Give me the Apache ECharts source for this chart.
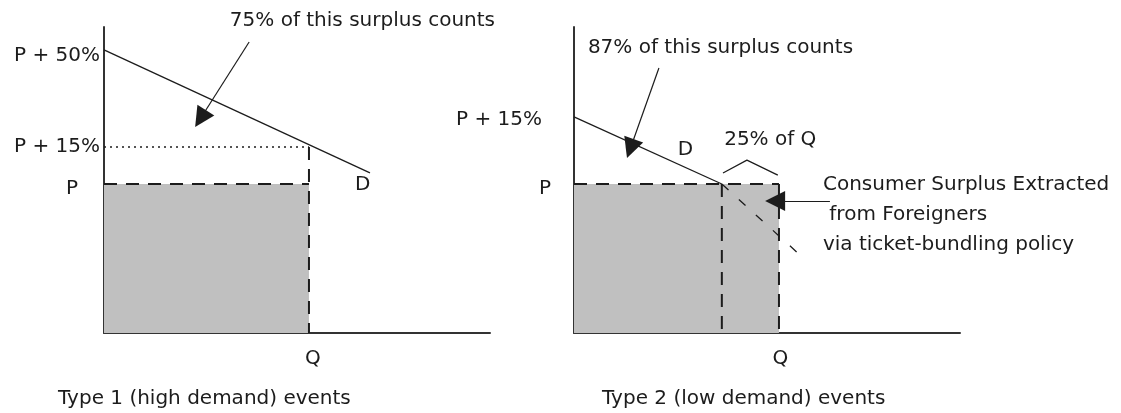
<!DOCTYPE html>
<html>
<head>
	<meta charset="utf-8">
	<title>Consumer surplus - ticket bundling</title>
	<script src="https://cdn.jsdelivr.net/npm/echarts@6/dist/echarts.min.js"></script>
	<style>
		html, body { margin: 0; padding: 0; background: #fff; }
		#main { width: 1121px; height: 413px; }
	</style>
</head>
<body>
<div id="main"></div>
<script type="text/javascript">
	// values (axis units 0..100 on both panels)
	var qLabels = ['Q'];
	var leftPriceLabels = ['P', 'P + 15%', 'P + 50%'];
	var leftPrices = [48.7, 60.8, 92.5];
	var leftQ = 53.1;
	var leftDemand = [[0, 92.5], [68.9, 52.3]];
	var leftArrow = [[37.6, 95.1], [25.0, 70.1]];

	var rightPriceLabels = ['P', 'P + 15%'];
	var rightPrices = [48.7, 70.6];
	var rightQ = 53.1;
	var rightKinkQ = 38.3;
	var rightDemand = [[0, 70.6], [38.3, 48.7]];
	var rightDemandExt = [[38.3, 48.7], [58.8, 25.2]];
	var rightBracket = [[38.6, 52.3], [44.8, 56.5], [52.8, 51.6]];
	var rightArrow = [[22.0, 86.6], [14.6, 60.3]];
	var extractArrow = [[66.3, 43.1], [52.1, 43.1]];

	var notes = [
		{grid: 0, pos: [32.6, 102.0], text: '75% of this surplus counts'},
		{grid: 0, pos: [65.0, 48.4], text: 'D'},
		{grid: 1, pos: [3.6, 93.1], text: '87% of this surplus counts'},
		{grid: 1, pos: [26.9, 59.8], text: 'D'},
		{grid: 1, pos: [38.9, 63.1], text: '25% of Q'},
		{grid: 1, pos: [64.5, 38.6], text: 'Consumer Surplus Extracted\n from Foreigners\nvia ticket-bundling policy'}
	];

	var font = 'DejaVu Sans';
	var ink = '#1c1c1c';
	var fillGrey = '#c0c0c0';

	var myChart = echarts.init(document.getElementById('main'));

	function valueAxis(idx) {
		return {
			type: 'value', gridIndex: idx, min: 0, max: 100,
			axisLine: {show: true, lineStyle: {color: '#333', width: 2}},
			axisTick: {show: false},
			splitLine: {show: false},
			axisLabel: {show: false}
		};
	}

	// pads: one [top, right, bottom, left] padding per label
	function yAxisFor(idx, values, labels, pads) {
		var ax = valueAxis(idx);
		var rich = {};
		labels.forEach(function (t, k) {
			rich['l' + k] = {fontFamily: font, fontSize: 20, color: ink, padding: pads[k]};
		});
		ax.axisLabel = {
			show: true, margin: 0,
			customValues: values,
			formatter: function (v) {
				var k = values.indexOf(v);
				return '{l' + k + '|' + labels[k] + '}';
			},
			rich: rich
		};
		return ax;
	}

	function xAxisFor(idx, q, pad) {
		var ax = valueAxis(idx);
		ax.axisLabel = {
			show: true, margin: 16,
			customValues: [q],
			formatter: function () { return '{q|' + qLabels[0] + '}'; },
			rich: {q: {fontFamily: font, fontSize: 20, color: ink, padding: [0, 0, 0, pad]}}
		};
		return ax;
	}

	function seg(idx, data, type, width, extra) {
		var s = {
			type: 'line', xAxisIndex: idx, yAxisIndex: idx,
			data: data, symbol: 'none', silent: true, z: 3,
			lineStyle: {color: ink, width: width, type: type}
		};
		for (var k in extra) { s[k] = extra[k]; }
		return s;
	}

	function arrow(pts, size) {
		return {
			silent: true, symbol: ['none', 'triangle'], symbolSize: size,
			label: {show: false},
			lineStyle: {color: ink, width: 1.2, type: 'solid'},
			data: [[{coord: pts[0]}, {coord: pts[1]}]]
		};
	}

	var seriesList = [
		// left panel
		seg(0, [[0, leftPrices[0]], [leftQ, leftPrices[0]]], [13, 9], 2,
			{areaStyle: {color: fillGrey, opacity: 1}, z: 2}),
		seg(0, [[leftQ, leftPrices[1]], [leftQ, 0]], [13, 9], 2),
		seg(0, [[0, leftPrices[1]], [leftQ, leftPrices[1]]], [2, 4], 1.5),
		seg(0, leftDemand, 'solid', 1.3, {markLine: arrow(leftArrow, 20)}),
		// right panel
		seg(1, [[0, rightPrices[0]], [rightQ, rightPrices[0]]], [13, 9], 2,
			{areaStyle: {color: fillGrey, opacity: 1}, z: 2}),
		seg(1, [[rightKinkQ, rightPrices[0]], [rightKinkQ, 0]], [13, 9], 2),
		seg(1, [[rightQ, rightPrices[0]], [rightQ, 0]], [13, 9], 2),
		seg(1, rightDemand, 'solid', 1.3, {markLine: arrow(rightArrow, 20)}),
		seg(1, rightDemandExt, [9, 14], 1.3),
		seg(1, rightBracket, 'solid', 1.2, {markLine: arrow(extractArrow, 20)})
	];

	[0, 1].forEach(function (g) {
		seriesList.push({
			type: 'scatter', xAxisIndex: g, yAxisIndex: g, symbolSize: 0, clip: false, silent: true,
			itemStyle: {opacity: 1},
			data: notes.filter(function (n) { return n.grid === g; }).map(function (n) {
				return {value: n.pos, name: n.text};
			}),
			label: {
				show: true, position: 'right', distance: 0,
				align: 'left', verticalAlign: 'middle',
				formatter: '{b}', fontFamily: font, fontSize: 20, color: ink, lineHeight: 30
			}
		});
	});

	var option = {
		animation: false,
		backgroundColor: '#fff',
		title: [
			{text: 'Type 1 (high demand) events', left: 58, top: 389, padding: 0,
				textStyle: {fontFamily: font, fontSize: 20, fontWeight: 'normal', color: ink}},
			{text: 'Type 2 (low demand) events', left: 602, top: 389, padding: 0,
				textStyle: {fontFamily: font, fontSize: 20, fontWeight: 'normal', color: ink}}
		],
		grid: [
			{left: 104, top: 27, width: 386, height: 306},
			{left: 574, top: 27, width: 386, height: 306}
		],
		xAxis: [xAxisFor(0, leftQ, 8), xAxisFor(1, rightQ, 3)],
		yAxis: [
			yAxisFor(0, leftPrices, leftPriceLabels, [[10, 26, 0, 0], [0, 4, 0, 0], [12, 4, 0, 0]]),
			yAxisFor(1, rightPrices, rightPriceLabels, [[10, 23, 0, 0], [6, 32, 0, 0]])
		],
		series: seriesList
	};

	myChart.setOption(option);
</script>
</body>
</html>
